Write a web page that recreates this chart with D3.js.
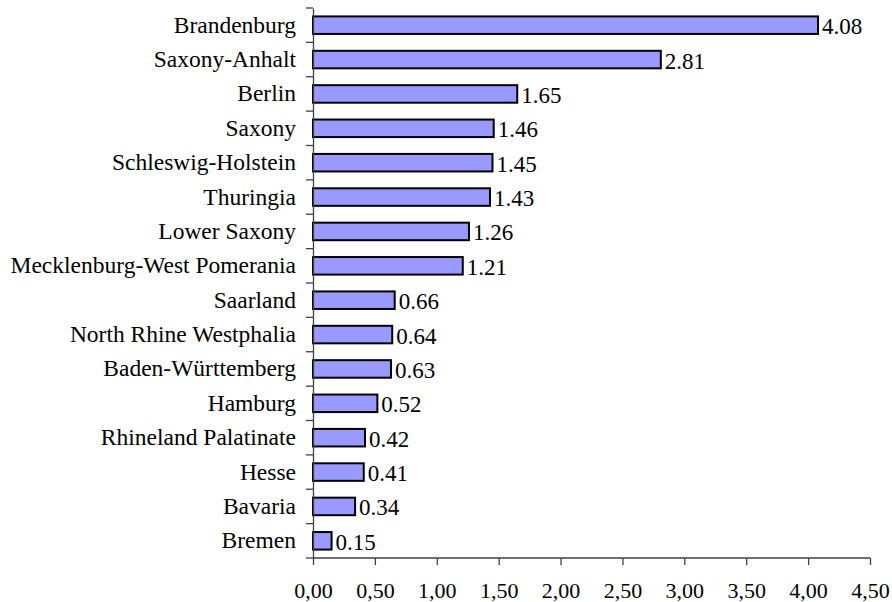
<!DOCTYPE html>
<html><head><meta charset="utf-8">
<script src="https://cdn.jsdelivr.net/npm/d3@7"></script>
<style>body{margin:0;background:#fff;}</style>
</head><body>
<svg id="c" width="892" height="602"></svg>
<script>
const categories = ["Brandenburg","Saxony-Anhalt","Berlin","Saxony","Schleswig-Holstein","Thuringia","Lower Saxony","Mecklenburg-West Pomerania","Saarland","North Rhine Westphalia","Baden-Württemberg","Hamburg","Rhineland Palatinate","Hesse","Bavaria","Bremen"];
const values = [4.08,2.81,1.65,1.46,1.45,1.43,1.26,1.21,0.66,0.64,0.63,0.52,0.42,0.41,0.34,0.15];
const xTicks = [0,0.5,1,1.5,2,2.5,3,3.5,4,4.5];

const FONT = "Liberation Serif";
const svg = d3.select("#c");
const x = d3.scaleLinear().domain([0,4.5]).range([313,870]);
const y = d3.scaleBand().domain(categories).range([8,558]).paddingInner(0.49).paddingOuter(0.245);

// bars
svg.append("g").selectAll("rect").data(values).join("rect")
  .attr("x", x(0)).attr("y",(d,i)=>y(categories[i]))
  .attr("width", d=>x(d)-x(0)).attr("height", y.bandwidth())
  .attr("fill","#9999FF").attr("stroke","#000").attr("stroke-width",2);

// value labels
svg.append("g").selectAll("text").data(values).join("text")
  .attr("font-family",FONT)
  .attr("x", d=>x(d)+4).attr("y",(d,i)=>y(categories[i])+y.bandwidth()/2+9)
  .attr("font-size",23).attr("fill","#000")
  .text(d=>d.toFixed(2));

// y axis
const yAxis = d3.axisLeft(y).tickSize(0).tickPadding(17);
const gy = svg.append("g").attr("transform",`translate(${x(0)},0)`).call(yAxis);
gy.attr("font-family",FONT);
gy.select(".domain").attr("stroke","#404040").attr("stroke-width",1.3);
gy.selectAll("text").attr("font-family",FONT).attr("font-size",23.5).attr("fill","#000");
// category separator ticks
const bounds = d3.range(categories.length+1).map(i=>8+i*(550/categories.length));
svg.append("g").selectAll("line").data(bounds).join("line")
  .attr("x1",x(0)-7).attr("x2",x(0)).attr("y1",d=>d).attr("y2",d=>d)
  .attr("stroke","#404040").attr("stroke-width",1.3);

// x axis
const xAxis = d3.axisBottom(x).tickValues(xTicks).tickSize(7).tickPadding(17)
  .tickFormat(d=>d.toFixed(2).replace(".",","));
const gx = svg.append("g").attr("transform","translate(0,558)").call(xAxis);
gx.attr("font-family",FONT);
gx.select(".domain").attr("stroke","#404040").attr("stroke-width",1.3).attr("d",`M${x(0)},0H${x(4.5)}`);
gx.selectAll(".tick line").attr("stroke","#404040").attr("stroke-width",1.3);
gx.selectAll("text").attr("font-family",FONT).attr("font-size",22).attr("fill","#000");
</script>
</body></html>
